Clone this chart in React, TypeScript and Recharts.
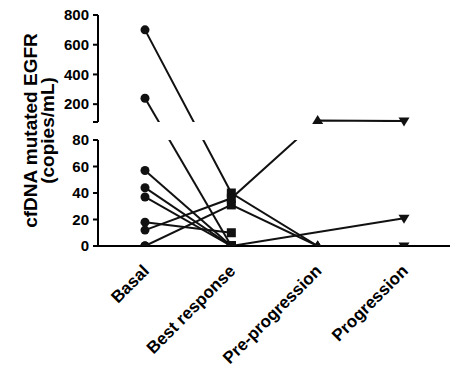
import React from 'react';
import { LineChart, Line, XAxis, YAxis } from 'recharts';

// stages on the x axis
const stages = ['Basal', 'Best response', 'Pre-progression', 'Progression'];

// one array per patient, copies/mL at each stage (null = not measured)
const patientA = [700, 40, 0, null];
const patientB = [240, 0, null, null];
const patientC = [57, 0, null, null];
const patientD = [44, 0, null, null];
const patientE = [37, 0, null, null];
const patientF = [18, 10, null, null];
const patientG = [12, 36, 90, 86];
const patientH = [0, 31, 0, null];
const patientI = [0, 0, null, 21];
const patientJ = [0, 0, 0, 0];

const patients = [patientA, patientB, patientC, patientD, patientE, patientF, patientG, patientH, patientI, patientJ];

const lowTicks = [0, 20, 40, 60, 80];
const highTicks = [80, 200, 400, 600, 800];
const highTickLabels = ['', '200', '400', '600', '800'];

// broken y axis: 0-80 on the lower segment, 80-800 on the upper one
const BREAK = 80;
const TOP = 800;
const LOW_SPAN = 106;
const GAP = 18;
const HIGH_SPAN = 107;

const lowPos = (v: number) => (v * LOW_SPAN) / BREAK;
const highPos = (v: number) => LOW_SPAN + GAP + ((v - BREAK) * HIGH_SPAN) / (TOP - BREAK);
const toAxis = (v: number | null) => (v == null ? null : v <= BREAK ? lowPos(v) : highPos(v));

const data = stages.map((stage, i) => {
    const row: any = { stage };
    patients.forEach((p, k) => {
        row[`p${k}`] = toAxis(p[i]);
    });
    return row;
});

const FONT = '"Liberation Sans", Arial, Helvetica, sans-serif';
const INK = '#111';
const W = 458;
const PAD = { left: 47, right: 46 };

const axisStroke = { stroke: '#000', strokeWidth: 2 };
const yTick = { fill: '#000', fontSize: 15, fontWeight: 'bold', fontFamily: FONT };

// marker shape depends on the stage
const Marker = ({ cx, cy, index }: any) => {
    if (cx == null || cy == null) return <g />;
    if (index === 0) return <circle cx={cx} cy={cy} r={4.5} fill={INK} />;
    if (index === 1) return <rect x={cx - 4.5} y={cy - 4.5} width={9} height={9} fill={INK} />;
    if (index === 2) return <path d={`M${cx},${cy - 5.5}L${cx + 5.5},${cy + 3.5}L${cx - 5.5},${cy + 3.5}Z`} fill={INK} />;
    return <path d={`M${cx},${cy + 5.5}L${cx + 5.5},${cy - 3.5}L${cx - 5.5},${cy - 3.5}Z`} fill={INK} />;
};

const StageTick = ({ x, y, payload }: any) => (
    <g transform={`translate(${x + 5},${y + 18})`}>
        <text textAnchor="end" transform="rotate(-45)" fontSize={17} fontWeight="bold" fontFamily={FONT} fill="#000">
            {payload.value}
        </text>
    </g>
);

const AxisTitle = ({ viewBox }: any) => {
    const vb = viewBox || { y: 15, height: 231 };
    const cy = vb.y + vb.height / 2;
    return (
        <g fontFamily={FONT} fontWeight="bold" fontSize={19} fill="#000">
            <text transform={`translate(37,${cy}) rotate(-90)`} textAnchor="middle">cfDNA mutated EGFR</text>
            <text transform={`translate(54,${cy}) rotate(-90)`} textAnchor="middle">(copies/mL)</text>
        </g>
    );
};

const lines = (withDots: boolean) =>
    patients.map((_, k) => (
        <Line
            key={`p${k}`}
            type="linear"
            dataKey={`p${k}`}
            stroke={withDots ? 'none' : INK}
            strokeWidth={2}
            connectNulls
            dot={withDots ? (props: any) => <Marker key={`m${k}-${props.index}`} cx={props.cx} cy={props.cy} index={props.index} /> : false}
            activeDot={false}
            isAnimationActive={false}
        />
    ));

export default function App() {
    return (
        <div style={{ position: 'absolute', left: 0, top: 0, width: W, height: 371, background: '#fff' }}>
            {/* upper segment 80-800 */}
            <div style={{ position: 'absolute', left: 0, top: 0 }}>
                <LineChart width={W} height={130} data={data} margin={{ top: 15, right: 8, left: 0, bottom: 8 }}>
                    <XAxis dataKey="stage" hide height={0} padding={PAD} />
                    <YAxis
                        type="number"
                        domain={[highPos(BREAK), highPos(TOP)]}
                        allowDataOverflow
                        ticks={highTicks.map(highPos)}
                        interval={0}
                        tickFormatter={(_v: number, i: number) => highTickLabels[i]}
                        width={98}
                        tickSize={5}
                        tickMargin={4}
                        axisLine={axisStroke}
                        tickLine={axisStroke}
                        tick={yTick}
                    />
                    {lines(false)}
                </LineChart>
            </div>
            {/* lower segment 0-80 */}
            <div style={{ position: 'absolute', left: 0, top: 130 }}>
                <LineChart width={W} height={241} data={data} margin={{ top: 10, right: 8, left: 0, bottom: 0 }}>
                    <XAxis
                        dataKey="stage"
                        height={125}
                        padding={PAD}
                        axisLine={axisStroke}
                        tickLine={false}
                        tickSize={6}
                        tickMargin={2}
                        interval={0}
                        tick={<StageTick />}
                    />
                    <YAxis
                        type="number"
                        domain={[0, lowPos(BREAK)]}
                        allowDataOverflow
                        ticks={lowTicks.map(lowPos)}
                        interval={0}
                        tickFormatter={(_v: number, i: number) => String(lowTicks[i])}
                        width={98}
                        tickSize={5}
                        tickMargin={4}
                        axisLine={axisStroke}
                        tickLine={axisStroke}
                        tick={yTick}
                    />
                    {lines(false)}
                </LineChart>
            </div>
            {/* markers over both segments, plus the axis title */}
            <div style={{ position: 'absolute', left: 0, top: 0, pointerEvents: 'none' }}>
                <LineChart width={W} height={260} data={data} margin={{ top: 15, right: 8, left: 0, bottom: 14 }}>
                    <XAxis dataKey="stage" hide height={0} padding={PAD} />
                    <YAxis
                        type="number"
                        domain={[0, highPos(TOP)]}
                        allowDataOverflow
                        width={98}
                        tick={false}
                        tickLine={false}
                        axisLine={false}
                        label={<AxisTitle />}
                    />
                    {lines(true)}
                </LineChart>
            </div>
        </div>
    );
}
